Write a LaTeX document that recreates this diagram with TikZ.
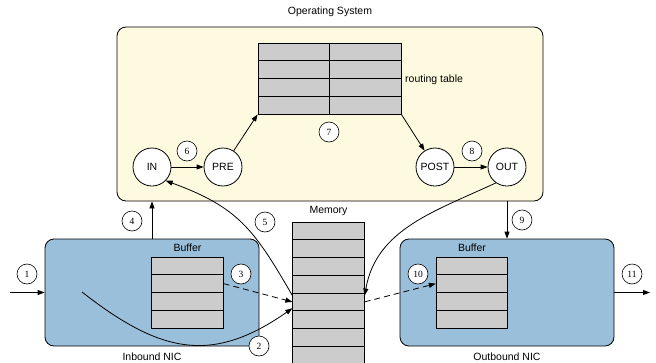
\documentclass[tikz,border=0pt]{standalone}
\usepackage{fontspec}
\setmainfont{Liberation Sans}
\newfontfamily\numfont{Liberation Serif}
\usetikzlibrary{arrows.meta,positioning,calc}
\definecolor{osyellow}{HTML}{FEFADF}
\definecolor{nicblue}{HTML}{99BFDA}
\definecolor{cellgray}{HTML}{CCCCCC}
\tikzset{
  arr/.style={line width=0.8pt, -{Triangle[length=7pt,width=5pt]}},
  box/.style={draw, line width=0.8pt, rounded corners=9pt, inner sep=0pt},
  cell/.style={draw, line width=0.8pt, fill=cellgray, minimum width=71.5pt, minimum height=17.75pt, inner sep=0pt},
  hook/.style={draw, circle, fill=white, line width=0.8pt, minimum size=38pt, inner sep=0pt, font=\fontsize{10.5}{12}\selectfont},
  num/.style={draw, circle, fill=white, line width=0.6pt, minimum size=20pt, inner sep=0pt, font=\numfont\fontsize{9.5}{10}\selectfont},
  lbl/.style={font=\fontsize{10.5}{12}\selectfont, inner sep=0pt},
}

\begin{document}
\begin{tikzpicture}[x=1pt,y=-1pt]
	\useasboundingbox (0,0) rectangle (656,362);
	
	%%%%% BOXES %%%%%
	\node[box, fill=osyellow, minimum width=426pt, minimum height=174pt] (os) at (330,114) {};
	\node[box, fill=nicblue, minimum width=214pt, minimum height=107pt] (inb) at (152,292.5) {};
	\node[box, fill=nicblue, minimum width=214pt, minimum height=107pt] (outb) at (507,292.5) {};
	
	\node[lbl] (ostitle) at (330,12) {Operating System};
	\node[lbl] (inbtitle) at (152,357) {Inbound NIC};
	\node[lbl] (outbtitle) at (507,357) {Outbound NIC};
	\node[lbl] (ibtitle) at (187.5,248) {Buffer};
	\node[lbl] (obtitle) at (472,248) {Buffer};
	\node[lbl] (memtitle) at (328.5,211) {Memory};
	\node[lbl, anchor=west] (rttitle) at (405,80) {routing table};
	
	%%%%% CELLS %%%%%
	\foreach \r in {0,...,3}
		\foreach \c in {0,1}
			\node[cell] (rt-\r-\c) at ({293.75+71.5*\c}, {51.875+17.75*\r}) {};
	\foreach \r in {0,...,3} {
		\node[cell] (ib-\r) at (187.5, {265.875+17.75*\r}) {};
		\node[cell] (ob-\r) at (472, {265.875+17.75*\r}) {};
	}
	\foreach \r in {0,...,7}
		\node[cell] (mem-\r) at (328.5, {230.875+17.75*\r}) {};
	
	%%%%% HOOKS %%%%%
	\node[hook] (hin) at (152,167) {IN};
	\node[hook] (hpre) at (223,167) {PRE};
	\node[hook] (hpost) at (435,167) {POST};
	\node[hook] (hout) at (507,167) {OUT};
	
	\coordinate (inlet) at (10,292.5);
	\coordinate (outlet) at (650,292.5);
	\coordinate (nicstart) at (82,292);
	
	%%%%% ARROWS %%%%%
	\draw[arr] (inlet) -- (inb.west);
	\draw[arr] (outb.east) -- (outlet);
	\draw[arr] (inb.north) -- (inb.north |- os.south);
	\draw[arr] (os.south -| outb.north) -- (outb.north);
	\draw[arr] (hin) -- (hpre);
	\draw[arr] (hpost) -- (hout);
	\draw[arr] (hpre) -- (rt-3-0.south west);
	\draw[arr] (rt-3-1.south east) -- (hpost);
	\draw[arr, dash pattern=on 6pt off 4pt] (ib-1.east) -- (mem-4.west);
	\draw[arr] (nicstart) to[out=-38, in=215, looseness=1.2] (mem-4.190);
	\draw[arr] (mem-4.170) to[out=120, in=-20, looseness=1.15] (hin.-45);
	\draw[arr] (hout.235) to[out=205, in=80] (mem-4.10);
	\draw[arr, dash pattern=on 6pt off 4pt] (mem-4.east) -- (ob-1.west);
	
	%%%%% STEPS %%%%%
	\node[num] (n1) at (27,274) {1};
	\node[num] (n2) at (259,346) {2};
	\node[num] (n3) at (241,274) {3};
	\node[num] (n4) at (132,221) {4};
	\node[num] (n5) at (265,222) {5};
	\node[num] (n6) at (187,151) {6};
	\node[num] (n7) at (329,132) {7};
	\node[num] (n8) at (472,151) {8};
	\node[num] (n9) at (522,220) {9};
	\node[num] (n10) at (418,274) {10};
	\node[num] (n11) at (632,274) {11};
\end{tikzpicture}
\end{document}
